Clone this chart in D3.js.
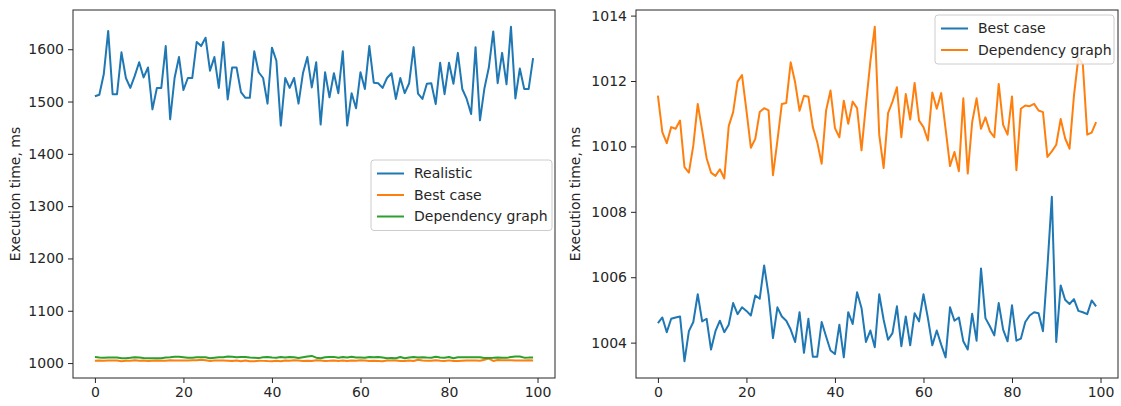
<!DOCTYPE html>
<html>
<head>
<meta charset="utf-8">
<script src="https://cdn.jsdelivr.net/npm/d3@7"></script>
<style>
  body { margin: 0; background: #fff; }
  svg { display: block; font-family: "DejaVu Sans", sans-serif; }
</style>
</head>
<body>
<svg id="chart" width="1121" height="406"></svg>
<script>
'use strict';

// execution time per run, ms
let realistic = [
  1510, 1513, 1552, 1635, 1514, 1514, 1594, 1545, 1526, 1549,
  1575, 1546, 1565, 1485, 1526, 1526, 1606, 1466, 1545, 1585,
  1522, 1545, 1545, 1614, 1606, 1622, 1559, 1585, 1526, 1614,
  1504, 1565, 1565, 1518, 1507, 1507, 1596, 1556, 1545, 1496,
  1603, 1578, 1454, 1545, 1526, 1545, 1496, 1554, 1585, 1527,
  1575, 1456, 1556, 1508, 1554, 1516, 1596, 1454, 1516, 1487,
  1556, 1524, 1606, 1536, 1535, 1526, 1545, 1554, 1505, 1545,
  1516, 1535, 1604, 1515, 1505, 1534, 1535, 1495, 1574, 1514,
  1574, 1534, 1593, 1524, 1505, 1476, 1604, 1464, 1525, 1565,
  1634, 1535, 1593, 1533, 1643, 1506, 1563, 1524, 1524, 1583
];

let bestCase = [
  1004.60, 1004.77, 1004.32, 1004.73, 1004.77, 1004.80, 1003.43, 1004.35, 1004.63, 1005.48,
  1004.65, 1004.73, 1003.79, 1004.35, 1004.67, 1004.32, 1004.55, 1005.21, 1004.87, 1005.08,
  1004.97, 1004.83, 1005.44, 1005.34, 1006.36, 1005.46, 1004.14, 1005.08, 1004.80, 1004.67,
  1004.40, 1004.02, 1004.93, 1003.69, 1004.73, 1003.57, 1003.57, 1004.63, 1004.19, 1003.76,
  1003.65, 1004.55, 1003.55, 1004.93, 1004.57, 1005.54, 1005.06, 1004.02, 1004.37, 1003.86,
  1005.48, 1004.70, 1004.09, 1004.29, 1005.11, 1003.89, 1004.80, 1003.92, 1004.90, 1004.65,
  1005.48, 1004.75, 1003.92, 1004.37, 1003.94, 1003.55, 1005.08, 1004.67, 1004.77, 1004.04,
  1003.79, 1004.88, 1004.06, 1006.27, 1004.75, 1004.50, 1004.22, 1005.21, 1004.40, 1004.04,
  1005.14, 1004.06, 1004.12, 1004.63, 1004.83, 1004.93, 1004.90, 1004.35, 1006.30, 1008.46,
  1004.02, 1005.75, 1005.31, 1005.18, 1005.33, 1004.97, 1004.93, 1004.87, 1005.29, 1005.11
];

let depGraph = [
  1011.55, 1010.44, 1010.10, 1010.59, 1010.54, 1010.79, 1009.37, 1009.20, 1010.03, 1011.30,
  1010.49, 1009.64, 1009.20, 1009.10, 1009.30, 1009.02, 1010.62, 1011.05, 1011.98, 1012.18,
  1011.10, 1009.96, 1010.23, 1011.05, 1011.17, 1011.10, 1009.12, 1010.18, 1011.30, 1011.33,
  1012.57, 1011.96, 1011.09, 1011.55, 1011.52, 1010.59, 1010.13, 1009.47, 1011.10, 1011.71,
  1010.56, 1010.28, 1011.40, 1010.69, 1011.37, 1011.17, 1009.88, 1011.27, 1012.59, 1013.66,
  1010.36, 1009.34, 1011.02, 1011.37, 1011.81, 1010.28, 1011.60, 1010.82, 1011.94, 1010.79,
  1010.59, 1010.18, 1011.65, 1011.15, 1011.63, 1010.54, 1009.40, 1009.83, 1009.24, 1011.47,
  1009.17, 1010.74, 1011.47, 1010.54, 1010.89, 1010.46, 1010.28, 1011.91, 1010.66, 1010.36,
  1011.53, 1009.27, 1011.15, 1011.25, 1011.23, 1011.30, 1011.10, 1011.05, 1009.68, 1009.85,
  1010.05, 1010.84, 1010.25, 1009.93, 1011.55, 1012.72, 1012.52, 1010.36, 1010.42, 1010.74
];

let runs = d3.range(realistic.length);

let xTicks = [0, 20, 40, 60, 80, 100];
let leftTicks = [1000, 1100, 1200, 1300, 1400, 1500, 1600];
let rightTicks = [1004, 1006, 1008, 1010, 1012, 1014];

let leftSeries = [
  { name: "Realistic", values: realistic },
  { name: "Best case", values: bestCase },
  { name: "Dependency graph", values: depGraph }
];
let rightSeries = [
  { name: "Best case", values: bestCase },
  { name: "Dependency graph", values: depGraph }
];

let colors = ["#1f77b4", "#ff7f0e", "#2ca02c"];
let fontSize = "14px";

function getChartConfig() {
    let svg = d3.select("#chart");
    let top = 10, bottom = 378;
    let left = { x0: 73, x1: 555, top, bottom };
    let right = { x0: 636, x1: 1118, top, bottom };
    return { svg, left, right };
}

// matplotlib style autoscale: 5% margin on both sides
function padDomain(ext) {
    let pad = (ext[1] - ext[0]) * 0.05;
    return [ext[0] - pad, ext[1] + pad];
}

function getScales(panel, series) {
    let allValues = series.flatMap(s => s.values);
    let xScale = d3.scaleLinear()
        .domain(padDomain(d3.extent(runs)))
        .range([panel.x0, panel.x1]);
    let yScale = d3.scaleLinear()
        .domain(padDomain(d3.extent(allValues)))
        .range([panel.bottom, panel.top]);
    return { xScale, yScale };
}

function drawAxis(config, panel, scales, yTicks, labelX) {
    let { svg } = config;
    let { xScale, yScale } = scales;

    let xAxis = d3.axisBottom(xScale)
        .tickValues(xTicks)
        .tickFormat(d3.format("d"))
        .tickSize(5)
        .tickPadding(4)
        .tickSizeOuter(0);

    let gx = svg.append("g")
        .attr("transform", "translate(0," + panel.bottom + ")")
        .call(xAxis);

    let yAxis = d3.axisLeft(yScale)
        .tickValues(yTicks)
        .tickFormat(d3.format("d"))
        .tickSize(5)
        .tickPadding(4)
        .tickSizeOuter(0);

    let gy = svg.append("g")
        .attr("transform", "translate(" + panel.x0 + ",0)")
        .call(yAxis);

    [gx, gy].forEach(g => {
        g.select(".domain").remove();
        g.selectAll("text")
            .attr("fill", "#262626")
            .style("font-family", "DejaVu Sans")
            .style("font-size", fontSize);
        g.selectAll("line").attr("stroke", "#262626");
    });

    // frame
    svg.append("rect")
        .attr("x", panel.x0)
        .attr("y", panel.top)
        .attr("width", panel.x1 - panel.x0)
        .attr("height", panel.bottom - panel.top)
        .attr("fill", "none")
        .attr("stroke", "#262626")
        .attr("stroke-width", 1);

    svg.append("text")
        .attr("transform", "translate(" + labelX + "," + ((panel.top + panel.bottom) / 2) + ") rotate(-90)")
        .attr("text-anchor", "middle")
        .attr("fill", "#262626")
        .style("font-size", fontSize)
        .text("Execution time, ms");
}

function drawLines(config, scales, series) {
    let { svg } = config;
    let { xScale, yScale } = scales;

    let line = d3.line()
        .x((d, i) => xScale(runs[i]))
        .y(d => yScale(d));

    series.forEach((s, i) => {
        svg.append("path")
            .datum(s.values)
            .attr("d", line)
            .attr("fill", "none")
            .attr("stroke", colors[i])
            .attr("stroke-width", 2)
            .attr("stroke-linejoin", "round");
    });
}

function drawLegend(config, series, box) {
    let { svg } = config;
    let rowH = 21.5;

    let g = svg.append("g")
        .attr("transform", "translate(" + box.x + "," + box.y + ")");

    g.append("rect")
        .attr("width", box.w)
        .attr("height", series.length * rowH + 6)
        .attr("rx", 3)
        .attr("fill", "#fff")
        .attr("fill-opacity", 0.8)
        .attr("stroke", "#cccccc");

    let rows = g.selectAll(".legendRow")
        .data(series)
        .enter().append("g")
        .attr("class", "legendRow")
        .attr("transform", (d, i) => "translate(0," + (13.5 + i * rowH) + ")");

    rows.append("line")
        .attr("x1", 6).attr("x2", 33)
        .attr("stroke", (d, i) => colors[i])
        .attr("stroke-width", 2);

    rows.append("text")
        .attr("x", 43)
        .attr("dy", "0.35em")
        .attr("fill", "#262626")
        .style("font-size", fontSize)
        .text(d => d.name);
}

function drawChart() {
    let config = getChartConfig();

    let leftScales = getScales(config.left, leftSeries);
    drawLines(config, leftScales, leftSeries);
    drawAxis(config, config.left, leftScales, leftTicks, 20);
    drawLegend(config, leftSeries, { x: 371, y: 160, w: 181 });

    let rightScales = getScales(config.right, rightSeries);
    drawLines(config, rightScales, rightSeries);
    drawAxis(config, config.right, rightScales, rightTicks, 580);
    drawLegend(config, rightSeries, { x: 935, y: 15, w: 179 });
}

drawChart();
</script>
</body>
</html>
